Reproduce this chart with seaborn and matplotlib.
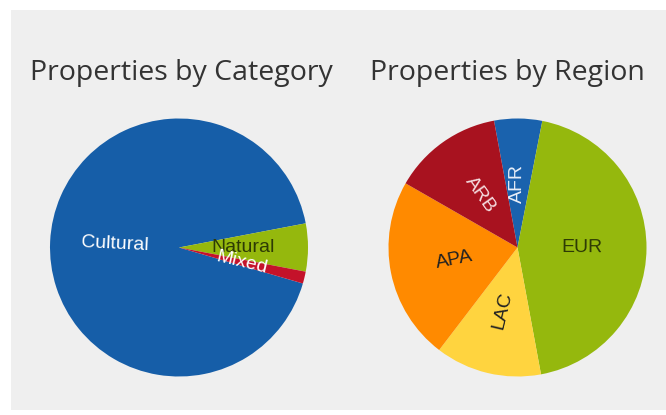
import numpy as np
import matplotlib
matplotlib.use("Agg")
import matplotlib.pyplot as plt
from matplotlib.patches import Rectangle
import seaborn as sns

# ---- data ----
cat_labels = ["Cultural", "Natural", "Mixed"]
cat_values = [92.5, 6.0, 1.5]
cat_colors = ["#165ea8", "#95b80d", "#c4122a"]
cat_text = ["white", "#2d3a05", "white"]

reg_labels = ["AFR", "EUR", "LAC", "APA", "ARB"]
reg_values = [6.0, 44.0, 13.3, 22.9, 13.8]
reg_colors = ["#1a62ad", "#95b80d", "#ffd43f", "#ff8a00", "#a8121f"]
reg_text = ["#e8eef8", "#2d3a05", "#222222", "#222222", "#f5dde0"]

titles = ["Properties by Category", "Properties by Region"]

sns.set_theme(style="white")
plt.rcParams["font.family"] = ["Liberation Sans", "DejaVu Sans"]

W, H = 666, 415
fig = plt.figure(figsize=(W / 100, H / 100), dpi=100)
fig.patch.set_facecolor("white")
fig.add_artist(Rectangle((11 / W, 5 / H), (W - 11) / W, (410 - 10) / H,
                         transform=fig.transFigure, facecolor="#efefef",
                         edgecolor="none", zorder=0))

R = 129
centers = [(179, 247.5), (517.5, 247.5)]
specs = [
    (cat_values, cat_colors, cat_labels, cat_text, 343.8),
    (reg_values, reg_colors, reg_labels, reg_text, 100.5),
]

for (cx, cy), (vals, cols, labs, tcols, start) in zip(centers, specs):
    ax = fig.add_axes([(cx - R) / W, (H - cy - R) / H, 2 * R / W, 2 * R / H])
    ax.set_facecolor("none")
    wedges, _ = ax.pie(vals, colors=cols, startangle=start, counterclock=False,
                       radius=1.0, wedgeprops=dict(linewidth=0))
    for w, lab, tc in zip(wedges, labs, tcols):
        mid = np.deg2rad((w.theta1 + w.theta2) / 2)
        x, y = 0.5 * np.cos(mid), 0.5 * np.sin(mid)
        rot = np.rad2deg(mid) if x > 0 else np.rad2deg(mid) + 180
        ax.text(x, y, lab, ha="center", va="center", rotation=rot,
                rotation_mode="anchor", color=tc, fontsize=14)
    ax.set_xlim(-1, 1)
    ax.set_ylim(-1, 1)
    ax.set_aspect("equal")
    ax.axis("off")

fig.text(181.5 / W, 1 - 80 / H, titles[0], ha="center", va="baseline",
         fontsize=20.5, color="#333333", family=["Open Sans", "DejaVu Sans"])
fig.text(507.5 / W, 1 - 80 / H, titles[1], ha="center", va="baseline",
         fontsize=20.5, color="#333333", family=["Open Sans", "DejaVu Sans"])

fig.savefig("out.png", dpi=100)
